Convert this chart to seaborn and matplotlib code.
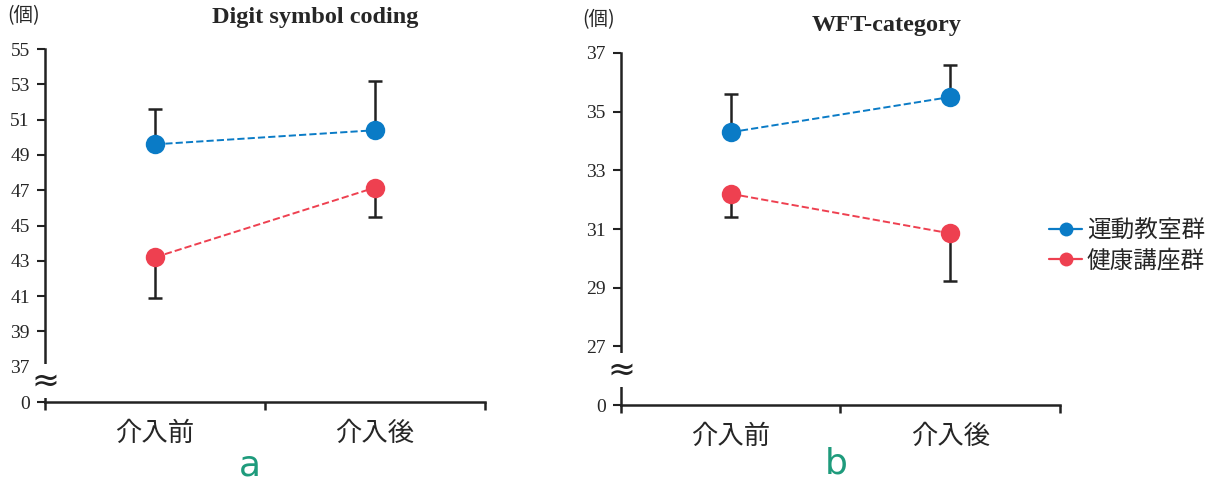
import pandas as pd
import matplotlib
matplotlib.use('Agg')
import matplotlib.pyplot as plt
from matplotlib.lines import Line2D
import seaborn as sns

# data
periods = ['介入前', '介入後']
groups = ['運動教室群', '健康講座群']

digit_exercise = [49.6, 50.4]
digit_exercise_err = [2.0, 2.8]     # upward bars
digit_lecture = [43.2, 47.15]
digit_lecture_err = [2.3, 1.65]     # downward bars

wft_exercise = [34.3, 35.5]
wft_exercise_err = [1.3, 1.1]
wft_lecture = [32.2, 30.85]
wft_lecture_err = [0.8, 1.63]

digit_ticks = [37, 39, 41, 43, 45, 47, 49, 51, 53, 55]
wft_ticks = [27, 29, 31, 33, 35, 37]

blue = '#0A7BC6'
red = '#EE4050'

sns.set_style('white')
serif = 'Liberation Serif'
cjk = ['Noto Sans CJK JP', 'DejaVu Sans']

fig = plt.figure(figsize=(12.21, 4.84), dpi=100)
ax1 = fig.add_axes([0.0369, 0.1694, 0.3604, 0.7293])
ax2 = fig.add_axes([0.5086, 0.1632, 0.3595, 0.7273])


def draw_panel(ax, ex, ex_err, le, le_err, ticks):
    df = pd.DataFrame({
        'period': periods * 2,
        'value': ex + le,
        'group': [groups[0]] * 2 + [groups[1]] * 2,
    })
    # one-sided error bars, under the markers
    ax.errorbar([0, 1], ex, yerr=[[0, 0], ex_err], fmt='none', ecolor='#222222',
                elinewidth=1.8, capsize=4.8, capthick=1.8, zorder=1)
    ax.errorbar([0, 1], le, yerr=[le_err, [0, 0]], fmt='none', ecolor='#222222',
                elinewidth=1.8, capsize=4.8, capthick=1.8, zorder=1)
    sns.lineplot(data=df, x='period', y='value', hue='group',
                 palette=[blue, red], marker='o', markersize=14,
                 markeredgewidth=0, linestyle='--', linewidth=1.4,
                 legend=False, ax=ax, zorder=3)

    base = ticks[0] - 2
    ax.set_ylim(base, ticks[-1])
    ax.set_yticks([base] + ticks)
    ax.set_yticklabels(['0'] + [str(t) for t in ticks], fontfamily=serif, fontsize=14)
    ax.set_xlim(-0.5, 1.5)
    ax.set_xticks([0, 1])
    ax.set_xticklabels(periods, fontfamily=cjk, fontsize=19)
    ax.set_xticks([-0.5, 0.5, 1.5], minor=True)
    ax.tick_params(axis='x', which='major', bottom=False, length=0, pad=13)
    ax.tick_params(axis='x', which='minor', bottom=True, length=6, width=1.8,
                   direction='out', color='#222222')
    ax.tick_params(axis='y', which='major', left=True, length=6, width=1.5,
                   direction='out', color='#222222', pad=5)
    ax.set_xlabel('')
    ax.set_ylabel('')
    for s in ['top', 'right']:
        ax.spines[s].set_visible(False)
    for s in ['left', 'bottom']:
        ax.spines[s].set_linewidth(1.8)
        ax.spines[s].set_color('#222222')
    # axis break mark
    ax.text(-0.5, base + 1.2, '≈', ha='center', va='center', fontsize=24,
            fontfamily='DejaVu Sans', color='#222222', clip_on=False, zorder=5,
            bbox=dict(facecolor='white', edgecolor='none', pad=0.3))


draw_panel(ax1, digit_exercise, digit_exercise_err, digit_lecture, digit_lecture_err, digit_ticks)
draw_panel(ax2, wft_exercise, wft_exercise_err, wft_lecture, wft_lecture_err, wft_ticks)

fig.text(315 / 1221, 1 - 18 / 484, 'Digit symbol coding', ha='center', va='center',
         fontfamily=serif, fontweight='bold', fontsize=17.5)
fig.text(887 / 1221, 1 - 25 / 484, 'WFT-category', ha='center', va='center',
         fontfamily=serif, fontweight='bold', fontsize=17.5)
fig.text(24 / 1221, 1 - 16 / 484, '(個)', ha='center', va='center',
         fontfamily=cjk, fontsize=14)
fig.text(599 / 1221, 1 - 20 / 484, '(個)', ha='center', va='center',
         fontfamily=cjk, fontsize=14)
fig.text(250 / 1221, 1 - 466 / 484, 'a', ha='center', va='center',
         fontfamily='DejaVu Sans', fontsize=26, color='#1E9B7C')
fig.text(836 / 1221, 1 - 464 / 484, 'b', ha='center', va='center',
         fontfamily='DejaVu Sans', fontsize=26, color='#1E9B7C')

handles = [Line2D([], [], color=blue, marker='o', markersize=10, markeredgewidth=0, linewidth=1.6),
           Line2D([], [], color=red, marker='o', markersize=10, markeredgewidth=0, linewidth=1.6)]
fig.legend(handles, groups, loc='center left', bbox_to_anchor=(1049 / 1221, 1 - 246 / 484),
           frameon=False, prop={'family': cjk, 'size': 17}, handlelength=1.4,
           handletextpad=0.2, labelspacing=0.3, borderaxespad=0, borderpad=0)

fig.savefig('out.png', dpi=100)
